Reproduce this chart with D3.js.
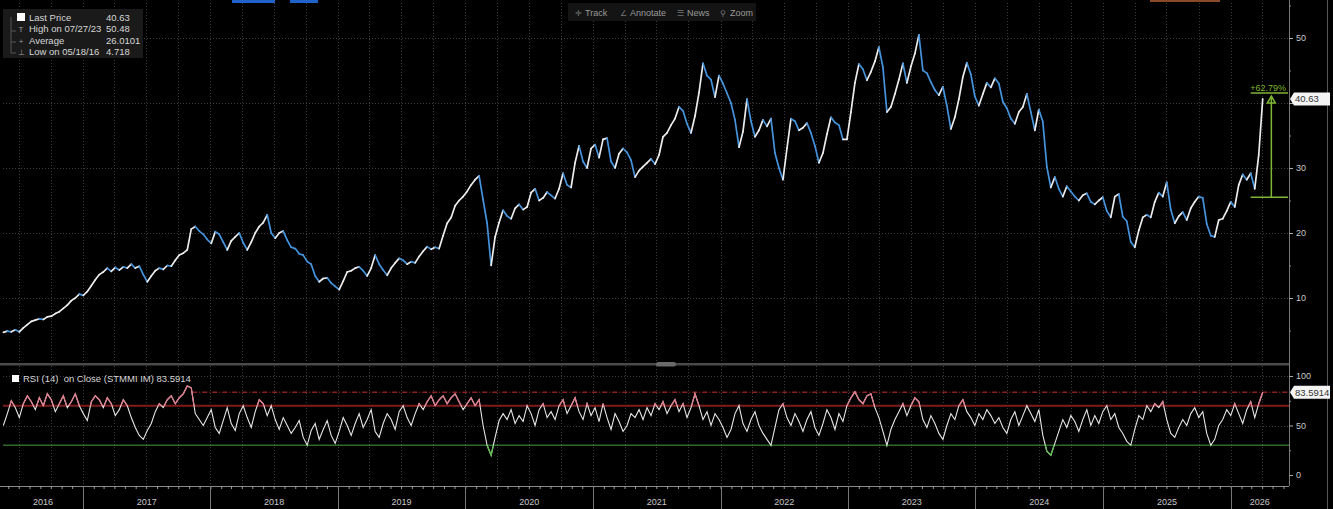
<!DOCTYPE html>
<html><head><meta charset="utf-8">
<script src="https://cdn.jsdelivr.net/npm/d3@7"></script>
<style>
html,body{margin:0;padding:0;background:#000;}
svg{display:block;font-family:"Liberation Sans",Arial,sans-serif;}
.pre{white-space:pre;}
</style></head>
<body><svg id="c" width="1333" height="509"></svg>
<script>
// ---------- DATA ----------
// Both series are read off the picture at one reading every `stepDays`, starting at `sampleStart`.
const sampleStart = "2016-05-18";
const stepDays = 11.45;
const priceValues = [
 4.72,4.9,4.8,5.1,4.8,5.4,5.9,6.4,6.6,6.8, 6.7,7.1,7.2,7.6,7.9,8.4,8.9,9.6,10.0,10.6,
 10.4,11.0,11.9,12.8,13.6,14.0,14.6,14.1,14.7,14.3, 14.8,14.6,15.2,14.6,14.9,13.6,12.5,13.4,14.2,14.6,
 14.4,15.0,14.9,15.8,16.6,16.9,17.4,20.6,21.0,20.3, 19.8,19.0,18.4,20.2,19.8,18.6,17.4,18.8,19.4,20.0,
 18.5,17.4,18.6,20.0,21.0,21.6,22.8,20.0,19.2,20.0, 20.3,18.9,17.8,17.6,16.8,16.6,15.6,15.2,13.4,12.5,
 13.0,13.1,12.3,11.8,11.3,12.6,14.0,14.2,14.6,14.8, 14.2,13.4,14.6,16.6,15.2,14.3,13.5,14.6,15.4,16.1,
 15.8,15.2,15.6,15.4,16.4,17.2,17.9,17.5,17.8,17.6, 19.6,21.5,22.4,24.2,25.0,25.6,26.4,27.4,28.2,28.8,
 25.1,21.5,15.0,19.4,21.6,23.5,22.6,22.2,23.8,24.4, 23.6,24.0,26.2,26.8,25.0,25.4,26.3,25.8,25.3,26.8,
 29.2,27.4,27.0,30.8,33.4,31.0,30.0,33.0,33.6,31.6, 34.4,34.6,31.0,30.0,32.2,33.0,32.4,31.2,28.6,29.6,
 30.2,30.8,31.4,30.6,32.0,34.8,35.4,36.6,37.6,39.4, 38.8,36.8,35.4,38.0,41.6,46.1,44.2,43.6,40.9,44.2,
 43.0,41.5,40.0,37.4,33.2,35.6,40.6,37.2,34.8,35.8, 37.4,36.4,37.6,32.3,30.0,28.2,33.0,37.6,37.2,35.8,
 36.2,36.9,35.4,33.4,30.8,32.3,35.2,37.8,37.0,36.6, 34.4,34.4,38.6,43.1,46.0,45.2,43.5,44.8,46.4,48.6,
 45.5,38.6,39.4,41.4,43.6,46.1,43.1,45.6,47.6,50.48, 45.0,44.6,43.2,42.0,41.2,42.5,39.6,36.0,37.8,40.6,
 44.0,46.2,44.4,41.0,39.6,41.4,43.1,42.4,43.8,43.0, 40.2,39.2,37.6,36.8,38.6,39.4,41.4,38.6,35.8,39.0,
 37.1,30.2,27.0,28.6,26.8,25.6,27.2,26.4,25.6,25.0, 25.8,26.1,24.8,24.4,25.0,25.5,23.4,22.4,25.6,26.0,
 22.5,21.8,18.6,17.8,20.4,22.4,22.8,22.4,24.8,26.2, 25.6,27.8,23.6,21.5,22.6,23.2,22.0,23.8,24.8,25.6,
 25.4,21.4,19.6,19.4,22.0,22.2,23.4,24.8,24.0,27.4, 29.0,28.2,29.2,26.8,32.0,40.63];
const rsiValues = [
 50,62,75,68,58,72,80,74,66,78, 70,82,76,64,72,80,68,74,82,70,
 62,55,74,80,76,68,78,72,60,66, 76,70,58,48,40,36,45,52,64,72,
 68,76,80,72,78,82,90,88,62,56, 50,58,66,48,42,55,68,52,45,62,
 70,58,48,64,76,72,60,70,56,46, 58,50,42,48,55,38,30,45,52,36,
 46,55,40,32,44,58,50,40,52,62, 48,56,66,44,38,52,62,56,46,64,
 70,58,50,62,72,66,74,80,70,76, 80,72,78,82,74,66,72,78,70,76,
 50,30,20,38,55,62,56,66,52,60, 54,70,62,50,66,72,58,64,56,70,
 76,62,70,78,64,56,72,60,68,54, 72,58,46,62,54,44,50,62,58,66,
 56,68,60,72,66,74,62,70,76,64, 72,58,68,82,70,56,64,50,62,56,
 48,38,46,62,70,52,44,56,64,50, 42,36,30,48,66,72,58,50,62,54,
 44,56,64,48,40,52,66,58,46,62, 54,70,78,84,76,72,80,82,68,58,
 44,30,46,56,64,72,60,70,78,74, 56,48,60,52,42,36,50,62,56,70,
 76,64,58,50,62,56,66,60,52,58, 48,42,56,64,50,60,70,62,54,66,
 40,24,20,32,44,56,48,60,54,44, 56,66,50,60,52,64,70,56,62,48,
 42,34,30,46,60,56,70,64,72,68, 74,56,42,38,48,56,50,62,68,58,
 64,42,30,36,50,56,66,60,72,62, 52,66,74,58,72,83.59];
const priceTicks = [10,20,30,40,50];
const priceMinor = [5,15,25,35,45,55];
const rsiTicks = [0,50,100];
const rsiMinor = [25,75];
const rsiLevels = {over:70, under:30};
const legendRows = [
  {icon:"sq", label:"Last Price", value:"40.63"},
  {icon:"T", label:"High on 07/27/23", value:"50.48"},
  {icon:"+", label:"Average", value:"26.0101"},
  {icon:"⊥", label:"Low on 05/18/16", value:"4.718"}
];
const toolbar = [["✛","Track"],["∠","Annotate"],["☰","News"],["⚲","Zoom"]];
const lastPrice = 40.63, lastRsi = 83.5914;
const changeBase = 25.5, changeTop = 41.52, changeLabel = "+62.79%";
const changeStart = "2026-03-05";
const rsiRefStart = "2017-11-10";

// ---------- SETUP ----------
const parse = d3.timeParse("%Y-%m-%d");
const svg = d3.select("#c");
const L = 3, R = 1289, PT = 3, PB = 363, RB = 486;
const x = d3.scaleTime().domain([new Date(2016,4,17), new Date(2026,5,17)]).range([L, R]);
const yP = d3.scaleLinear().domain([0,50]).range([363,38]);
const yR = d3.scaleLinear().domain([0,100]).range([475,376]);

const s0 = parse(sampleStart);
const dateAt = i => new Date(s0.getTime()+i*stepDays*864e5);
const price = priceValues.map((v,i)=>({d:dateAt(i), v}));
const rsi = rsiValues.map((v,i)=>({d:dateAt(i), v}));

svg.append("rect").attr("width",1333).attr("height",509).attr("fill","#000");

// grid
const quarters = d3.timeMonth.every(3).range(x.domain()[0], x.domain()[1]);
const grid = svg.append("g").attr("stroke","#3c3c3c").attr("stroke-dasharray","1,2").attr("stroke-width",1);
grid.selectAll(".vq").data(quarters).join("line")
  .attr("x1",d=>Math.round(x(d))+0.5).attr("x2",d=>Math.round(x(d))+0.5).attr("y1",PT).attr("y2",RB);
grid.selectAll(".hp").data(priceTicks).join("line")
  .attr("x1",L).attr("x2",R).attr("y1",d=>Math.round(yP(d))+0.5).attr("y2",d=>Math.round(yP(d))+0.5);
grid.selectAll(".hr").data([50,100]).join("line")
  .attr("x1",L).attr("x2",R).attr("y1",d=>Math.round(yR(d))+0.5).attr("y2",d=>Math.round(yR(d))+0.5);

// top coloured markers
svg.append("rect").attr("x",232).attr("y",0).attr("width",43).attr("height",3).attr("fill","#1f63c9");
svg.append("rect").attr("x",290).attr("y",0).attr("width",28).attr("height",3).attr("fill","#1f63c9");
svg.append("rect").attr("x",1150).attr("y",0).attr("width",70).attr("height",2).attr("fill","#8a4a2a");

// ---------- PRICE LINE (white on up moves, blue on down moves) ----------
const segs = d3.pairs(price);
svg.append("g").selectAll("line").data(segs).join("line")
  .attr("x1",d=>x(d[0].d)).attr("y1",d=>yP(d[0].v)).attr("x2",d=>x(d[1].d)).attr("y2",d=>yP(d[1].v))
  .attr("stroke",d=>d[1].v>=d[0].v?"#ececec":"#4493dc").attr("stroke-width",1.7).attr("stroke-linecap","round");

// change annotation
const green = "#7fb534";
const cx0 = x(parse(changeStart)) - 2, cx1 = R - 1;
const cmid = (cx0+cx1)/2 + 2;
const ann = svg.append("g").attr("stroke",green).attr("stroke-width",1.5).attr("fill","none");
ann.append("line").attr("x1",cx0).attr("x2",cx1).attr("y1",yP(changeBase)).attr("y2",yP(changeBase));
ann.append("line").attr("x1",cx0).attr("x2",cx1).attr("y1",yP(changeTop)).attr("y2",yP(changeTop));
ann.append("line").attr("x1",cmid).attr("x2",cmid).attr("y1",yP(changeBase)).attr("y2",yP(changeTop)+3);
ann.append("path").attr("d",`M${cmid},${yP(changeTop)+3} l-4,7 h8 z`);
svg.append("text").attr("x",cx1-2).attr("y",yP(changeTop)-2).attr("text-anchor","end")
  .attr("fill",green).attr("font-size",9).text(changeLabel);

// ---------- RSI ----------
svg.append("line").attr("x1",L).attr("x2",R).attr("y1",yR(rsiLevels.over)).attr("y2",yR(rsiLevels.over))
  .attr("stroke","#7d1d1d").attr("stroke-width",2);
svg.append("line").attr("x1",L).attr("x2",R).attr("y1",yR(rsiLevels.under)).attr("y2",yR(rsiLevels.under))
  .attr("stroke","#2f6a2a").attr("stroke-width",1.5);
svg.append("line").attr("x1",x(parse(rsiRefStart))).attr("x2",R).attr("y1",yR(lastRsi)).attr("y2",yR(lastRsi))
  .attr("stroke","#8a2020").attr("stroke-width",1.5).attr("stroke-dasharray","5,2,1,2");

const rline = d3.line().x(d=>x(d.d)).y(d=>yR(d.v));
svg.append("clipPath").attr("id","cOver").append("rect").attr("x",0).attr("y",0).attr("width",1333).attr("height",yR(rsiLevels.over));
svg.append("clipPath").attr("id","cUnder").append("rect").attr("x",0).attr("y",yR(rsiLevels.under)).attr("width",1333).attr("height",100);
svg.append("path").datum(rsi).attr("d",rline).attr("fill","none").attr("stroke","#e6e6e6").attr("stroke-width",1.1);
svg.append("path").datum(rsi).attr("d",rline).attr("fill","none").attr("stroke","#e07a8a").attr("stroke-width",1.3).attr("clip-path","url(#cOver)");
svg.append("path").datum(rsi).attr("d",rline).attr("fill","none").attr("stroke","#5fbf4f").attr("stroke-width",1.3).attr("clip-path","url(#cUnder)");

// ---------- FRAME ----------
svg.append("rect").attr("x",0).attr("y",PB).attr("width",R).attr("height",2.5).attr("fill","#4a4a4a");
svg.append("rect").attr("x",656).attr("y",PB-1).attr("width",20).attr("height",4.5).attr("rx",2).attr("fill","#6a6a6a");
svg.append("line").attr("x1",R+0.5).attr("x2",R+0.5).attr("y1",0).attr("y2",RB).attr("stroke","#777");
svg.append("line").attr("x1",1327.5).attr("x2",1327.5).attr("y1",0).attr("y2",509).attr("stroke","#555");

// right axes (labels hidden where the value box covers them)
function rAxis(scale, major, minor, covered){
  const g = svg.append("g").attr("transform",`translate(${R},0)`);
  g.call(d3.axisRight(scale).tickValues(major).tickSize(4).tickPadding(3)
    .tickFormat(d=>Math.abs(scale(d)-scale(covered))<9?"":d));
  g.call(gg=>gg.select(".domain").remove());
  g.selectAll("line").attr("stroke","#aaa");
  g.selectAll("text").attr("fill","#c8c8c8").attr("font-size",9).attr("font-family","Liberation Sans, Arial, sans-serif");
  const m = svg.append("g").attr("transform",`translate(${R},0)`);
  m.call(d3.axisRight(scale).tickValues(minor).tickSize(2).tickFormat(""));
  m.select(".domain").remove();
  m.selectAll("line").attr("stroke","#888");
}
rAxis(yP, priceTicks, priceMinor, lastPrice);
rAxis(yR, rsiTicks, rsiMinor, lastRsi);

// value boxes
function valBox(y, txt){
  const g = svg.append("g");
  g.append("path").attr("d",`M${R+1},${y} l4,-6.5 h36 v13 h-36 z`).attr("fill","#f4f4f4");
  g.append("text").attr("x",R+6).attr("y",y+3.5).attr("fill","#333").attr("font-size",9.5).text(txt);
}
valBox(yP(lastPrice), lastPrice.toFixed(2));
valBox(yR(lastRsi), lastRsi.toFixed(4));

// bottom axis
svg.append("line").attr("x1",0).attr("x2",R).attr("y1",RB+0.5).attr("y2",RB+0.5).attr("stroke","#888");
const bx = svg.append("g").attr("transform",`translate(0,${RB})`);
bx.call(d3.axisBottom(x).ticks(d3.timeMonth.every(1)).tickSize(3).tickFormat(""));
bx.select(".domain").remove();
bx.selectAll("line").attr("stroke","#999");
const years = d3.timeYear.range(d3.timeYear.floor(x.domain()[0]), x.domain()[1]);
svg.selectAll(".ysep").data(years.slice(1)).join("line")
  .attr("x1",d=>Math.round(x(d))+0.5).attr("x2",d=>Math.round(x(d))+0.5).attr("y1",RB).attr("y2",509).attr("stroke","#777");
svg.selectAll(".ylab").data(years).join("text")
  .attr("x",d=>(Math.max(L,x(d))+Math.min(R,x(d3.timeYear.offset(d,1))))/2)
  .attr("y",505).attr("text-anchor","middle").attr("fill","#c8c8c8").attr("font-size",9)
  .text(d3.timeFormat("%Y"));

// ---------- LEGENDS ----------
const lg = svg.append("g");
lg.append("rect").attr("x",3).attr("y",9).attr("width",140).attr("height",49).attr("fill","#1a1a1a");
legendRows.forEach((r,i)=>{
  const yy = 21 + i*11.3;
  if(r.icon==="sq") lg.append("rect").attr("x",17).attr("y",yy-8).attr("width",8).attr("height",8).attr("fill","#fff");
  else lg.append("text").attr("x",21).attr("y",yy).attr("text-anchor","middle").attr("fill","#999").attr("font-size",8).text(r.icon);
  lg.append("text").attr("x",29).attr("y",yy).attr("fill","#d6d6d6").attr("font-size",9.5).text(r.label);
  lg.append("text").attr("x",106).attr("y",yy).attr("fill","#d6d6d6").attr("font-size",9.5).text(r.value);
});
lg.append("path").attr("d","M11,17 V53 M11,31 h5 M11,42 h5 M11,53 h5").attr("stroke","#555").attr("fill","none");

// toolbar
const tb = svg.append("g");
tb.append("rect").attr("x",568).attr("y",3).attr("width",188).attr("height",18).attr("fill","#141414");
const tbX = [575,620,677,720];
toolbar.forEach((t,i)=>{
  tb.append("text").attr("x",tbX[i]).attr("y",16).attr("fill","#777").attr("font-size",8).text(t[0]);
  tb.append("text").attr("x",tbX[i]+10).attr("y",16).attr("fill","#9a9a9a").attr("font-size",9).text(t[1]);
});

// RSI legend
svg.append("rect").attr("x",12).attr("y",375).attr("width",7).attr("height",7).attr("fill","#fff");
svg.append("text").attr("class","pre").attr("x",23).attr("y",382).attr("fill","#d6d6d6").attr("font-size",9.5)
  .text("RSI (14)  on Close (STMMI IM) " + lastRsi.toFixed(4));
</script></body></html>
